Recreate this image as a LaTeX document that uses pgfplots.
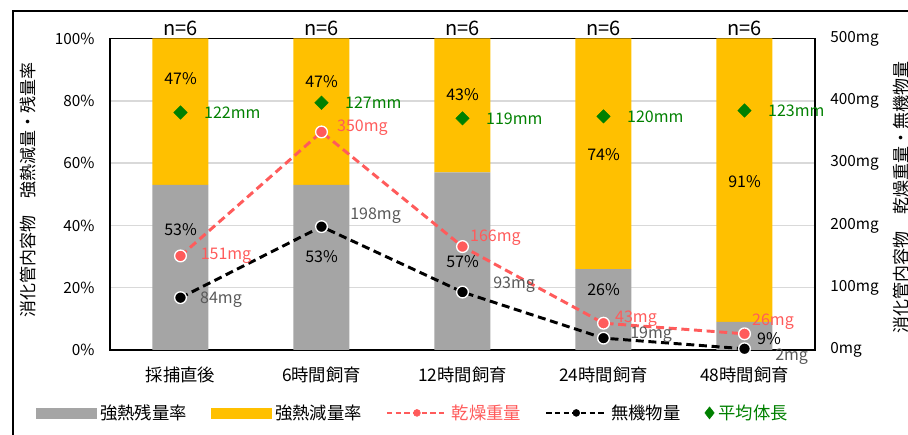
\documentclass[border=0pt]{standalone}
\usepackage{fontspec}
\setmainfont{Noto Sans CJK JP}
\usepackage{pgfplots}
\pgfplotsset{compat=1.18}

\definecolor{barGrey}{HTML}{A5A5A5}
\definecolor{barGold}{HTML}{FFC000}
\definecolor{dryRed}{HTML}{FF5B5B}
\definecolor{gridGrey}{HTML}{D9D9D9}
\definecolor{lenGreen}{HTML}{008000}
\definecolor{labelGrey}{HTML}{595959}

\newcommand{\vf}{\fontsize{12}{13}\selectfont}

% 1px = 0.75pt ; plot area 705 x 311.5 px
\pgfplotsset{
  chartax/.style={
    scale only axis, width=528.75pt, height=233.625pt,
    xmin=-0.5, xmax=4.5, clip=false,
    tick label style={font=\fontsize{11.5}{12}\selectfont},
    major tick length=0pt,
    axis line style={line width=1.1pt},
  },
}

\begin{document}
\begin{tikzpicture}
\useasboundingbox (-82.5pt,-63.75pt) rectangle (598.5pt,262.5pt);
% chart frame
\draw[line width=1.1pt] (-72.75pt,-75pt) rectangle (605pt,254.25pt);

% ---- stacked bars: ignition residue / ignition loss (%)
\begin{axis}[chartax,
  ybar stacked, bar width=42pt,
  ymin=0, ymax=100, ytick={0,20,40,60,80,100},
  yticklabels={0\%,20\%,40\%,60\%,80\%,100\%},
  yticklabel style={xshift=-8pt},
  ymajorgrids, grid style={gridGrey, line width=1.1pt},
  xtick={0,1,2,3,4},
  xticklabels={採捕直後,6時間飼育,12時間飼育,24時間飼育,48時間飼育},
  x tick label style={font=\fontsize{13}{14}\selectfont, yshift=-9pt},
  ylabel={消化管内容物　強熱減量・残量率},
  ylabel style={at={(rel axis cs:0,0.514)}, anchor=center,
    yshift=61.5pt, font=\fontsize{12.75}{13}\selectfont},
]
\addplot[fill=barGrey, draw=none] coordinates {(0,53) (1,53) (2,57) (3,26) (4,9)};
\addplot[fill=barGold, draw=none] coordinates {(0,47) (1,47) (2,43) (3,74) (4,91)};

\node[anchor=base, inner sep=0pt, font=\fontsize{15}{16}\selectfont] at (axis cs:0,100.9) {n=6};
\node[anchor=base, inner sep=0pt, font=\fontsize{15}{16}\selectfont] at (axis cs:1,100.9) {n=6};
\node[anchor=base, inner sep=0pt, font=\fontsize{15}{16}\selectfont] at (axis cs:2,100.9) {n=6};
\node[anchor=base, inner sep=0pt, font=\fontsize{15}{16}\selectfont] at (axis cs:3,100.9) {n=6};
\node[anchor=base, inner sep=0pt, font=\fontsize{15}{16}\selectfont] at (axis cs:4,100.9) {n=6};
\end{axis}

% ---- dry weight / inorganic matter (mg); 1% on the left scale = 5mg here
\begin{axis}[chartax,
  axis x line=none, axis y line*=right,
  ymin=0, ymax=500, ytick={0,100,200,300,400,500},
  yticklabels={0mg,100mg,200mg,300mg,400mg,500mg},
  yticklabel style={xshift=8pt},
  ylabel={消化管内容物　乾燥重量・無機物量},
  ylabel style={at={(rel axis cs:1,0.488)}, anchor=center,
    yshift=-64.5pt, font=\fontsize{12.75}{13}\selectfont},
]
% percentage labels of the stacked bars (placed above the bars)
\node[font=\vf, inner sep=0pt] at (axis cs:0,435)   {47\%};
\node[font=\vf, inner sep=0pt] at (axis cs:0,194)   {53\%};
\node[font=\vf, inner sep=0pt] at (axis cs:1,430.5) {47\%};
\node[font=\vf, inner sep=0pt] at (axis cs:1,149.5) {53\%};
\node[font=\vf, inner sep=0pt] at (axis cs:2,409.5) {43\%};
\node[font=\vf, inner sep=0pt] at (axis cs:2,141.5) {57\%};
\node[font=\vf, inner sep=0pt] at (axis cs:3,313)   {74\%};
\node[font=\vf, inner sep=0pt] at (axis cs:3,96.5)  {26\%};
\node[font=\vf, inner sep=0pt] at (axis cs:4,270)   {91\%};
\node[font=\vf, inner sep=0pt] at (axis cs:4.174,19) {9\%};

\addplot[dryRed, line width=2.2pt, dash pattern=on 6pt off 3.5pt,
    mark=*, mark size=4.4pt, mark options={solid, fill=dryRed, draw=white, line width=1pt}]
  coordinates {(0,151) (1,350) (2,166) (3,43) (4,26)};
\addplot[black, line width=2.2pt, dash pattern=on 6pt off 3.5pt,
    mark=*, mark size=4.4pt, mark options={solid, fill=black, draw=white, line width=1pt}]
  coordinates {(0,84) (1,198) (2,93) (3,19) (4,2)};

\node[font=\vf, inner sep=0pt, anchor=west, text=dryRed, xshift=15pt]                at (axis cs:0,151) {151mg};
\node[font=\vf, inner sep=0pt, anchor=west, text=dryRed, xshift=11.6pt, yshift=3pt]  at (axis cs:1,350) {350mg};
\node[font=\vf, inner sep=0pt, anchor=west, text=dryRed, xshift=5.6pt, yshift=6.75pt] at (axis cs:2,166) {166mg};
\node[font=\vf, inner sep=0pt, anchor=west, text=dryRed, xshift=8.6pt, yshift=3.75pt] at (axis cs:3,43) {43mg};
\node[font=\vf, inner sep=0pt, anchor=west, text=dryRed, xshift=5.6pt, yshift=9pt]   at (axis cs:4,26) {26mg};

\node[font=\vf, inner sep=0pt, anchor=west, text=labelGrey, xshift=14.6pt, yshift=-1.5pt] at (axis cs:0,84) {84mg};
\node[font=\vf, inner sep=0pt, anchor=west, text=labelGrey, xshift=21.4pt, yshift=8pt]    at (axis cs:1,198) {198mg};
\node[font=\vf, inner sep=0pt, anchor=west, text=labelGrey, xshift=22.9pt, yshift=5.25pt] at (axis cs:2,93) {93mg};
\node[font=\vf, inner sep=0pt, anchor=west, text=labelGrey, xshift=19.9pt, yshift=2.25pt] at (axis cs:3,19) {19mg};
\node[font=\vf, inner sep=0pt, anchor=west, text=labelGrey, xshift=22.9pt, yshift=-6pt]   at (axis cs:4,2) {2mg};
\end{axis}

% ---- mean body length (mm) on a hidden scale, plus the legend
\begin{axis}[chartax, hide axis, ymin=0, ymax=160,
  legend columns=-1,
  legend style={at={(rel axis cs:-0.106,-0.202)}, anchor=west,
    draw=none, fill=none, inner sep=0pt,
    font=\fontsize{13}{14}\selectfont,
    nodes={inner sep=3pt},
    /tikz/every even column/.append style={column sep=15pt}},
]
\addlegendimage{legend image code/.code={\fill[barGrey] (0pt,-3.75pt) rectangle (45pt,3.75pt);}}
\addlegendimage{legend image code/.code={\fill[barGold] (0pt,-3.75pt) rectangle (45pt,3.75pt);}}
\addlegendimage{legend image code/.code={\draw[dryRed, line width=1.5pt, dash pattern=on 4pt off 2.5pt] (0pt,0pt) -- (45pt,0pt);
  \fill[dryRed] (22.5pt,0pt) circle (2.6pt);}}
\addlegendimage{legend image code/.code={\draw[black, line width=1.5pt, dash pattern=on 4pt off 2.5pt] (0pt,0pt) -- (45pt,0pt);
  \fill[black] (22.5pt,0pt) circle (2.6pt);}}
\addplot[only marks, mark=diamond*, mark size=5pt, color=lenGreen,
  mark options={xscale=1.33},
  legend image code/.code={\fill[lenGreen] (0pt,4.5pt) -- (3.5pt,0pt) -- (0pt,-4.5pt) -- (-3.5pt,0pt) -- cycle;}]
  coordinates {(0,122) (1,127) (2,119) (3,120) (4,123)};
\legend{強熱残量率,強熱減量率,\textcolor{dryRed}{乾燥重量},無機物量,\textcolor{lenGreen}{平均体長}}

\node[font=\vf, inner sep=0pt, anchor=west, text=lenGreen, xshift=17.6pt] at (axis cs:0,122) {122mm};
\node[font=\vf, inner sep=0pt, anchor=west, text=lenGreen, xshift=17.6pt] at (axis cs:1,127) {127mm};
\node[font=\vf, inner sep=0pt, anchor=west, text=lenGreen, xshift=17.6pt] at (axis cs:2,119) {119mm};
\node[font=\vf, inner sep=0pt, anchor=west, text=lenGreen, xshift=17.6pt] at (axis cs:3,120) {120mm};
\node[font=\vf, inner sep=0pt, anchor=west, text=lenGreen, xshift=17.6pt] at (axis cs:4,123) {123mm};
\end{axis}
\end{tikzpicture}
\end{document}
